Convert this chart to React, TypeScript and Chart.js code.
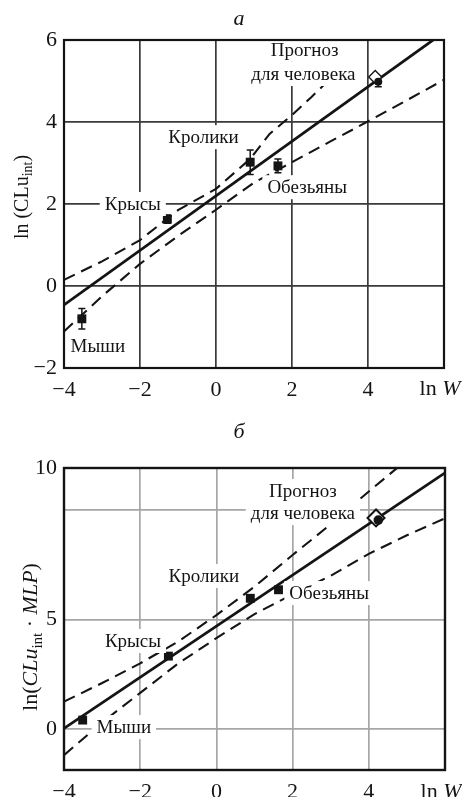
import React, { useEffect, useRef } from 'react';
import { Chart, registerables } from 'chart.js';
Chart.register(...registerables);

const FONT = "'Liberation Serif', 'DejaVu Serif', serif";
const INK = '#141414';

// ---------- shared x axis ----------
const X_MIN = -4;
const X_MAX = 6;
const X_TICK_VALUES = [-4, -2, 0, 2, 4, 6];
const X_TICK_LABELS = ['−4', '−2', '0', '2', '4', ''];

// ---------- panel а : ln(CLu_int) vs ln W ----------
const A_Y_MIN = -2;
const A_Y_MAX = 6;
const A_Y_TICK_VALUES = [-2, 0, 2, 4, 6];
const A_Y_TICK_LABELS = ['−2', '0', '2', '4', '6'];
const A_SPECIES_LNW = [-3.53, -1.28, 0.9, 1.63];
const A_SPECIES_LNCL = [-0.8, 1.63, 3.02, 2.93];
const A_SPECIES_ERR = [0.25, 0.1, 0.3, 0.17];
const A_HUMAN_OBS_LNW = [4.27];
const A_HUMAN_OBS_LNCL = [4.98];
const A_HUMAN_OBS_ERR = [0.12];
const A_HUMAN_PRED_LNW = [4.19];
const A_HUMAN_PRED_LNCL = [5.1];
const A_FIT_LNW = [-4, 6];
const A_FIT_LNCL = [-0.46, 6.19];
const A_UPPER_LNW = [-4, -3, -2, -1, 0, 0.9, 1.41, 2, 2.5, 3.0];
const A_UPPER_LNCL = [0.15, 0.6, 1.12, 1.85, 2.37, 3.1, 3.71, 4.17, 4.6, 5.05];
const A_LOWER_LNW = [-4, -3, -2, -1, 0, 1, 1.76, 3, 4.03, 5, 6];
const A_LOWER_LNCL = [-1.11, -0.25, 0.54, 1.22, 1.86, 2.52, 2.9, 3.52, 4.03, 4.52, 5.03];
const A_LABEL_TEXT = ['Мыши', 'Крысы', 'Кролики', 'Обезьяны', 'Прогноз', 'для человека'];
const A_LABEL_LNW = [-3.11, -2.19, -0.33, 2.4, 2.33, 2.3];
const A_LABEL_LNCL = [-1.46, 2.0, 3.63, 2.41, 5.76, 5.17];

// ---------- panel б : ln(CLu_int · MLP) vs ln W ----------
const B_Y_MIN = -1.87;
const B_Y_MAX = 11.92;
const B_Y_TICK_VALUES = [0, 5, 10, 11.92];
const B_Y_TICK_LABELS = ['0', '5', '', '10'];
const B_SPECIES_LNW = [-3.51, -1.26, 0.89, 1.63];
const B_SPECIES_LNCL = [0.41, 3.33, 5.97, 6.36];
const B_HUMAN_OBS_LNW = [4.25];
const B_HUMAN_OBS_LNCL = [9.54];
const B_HUMAN_PRED_LNW = [4.19];
const B_HUMAN_PRED_LNCL = [9.64];
const B_FIT_LNW = [-4, 6];
const B_FIT_LNCL = [0.03, 11.7];
const B_UPPER_LNW = [-4, -3, -2, -1, 0, 1, 2, 3, 4, 4.8];
const B_UPPER_LNCL = [1.25, 2.1, 3.0, 4.0, 5.2, 6.5, 7.95, 9.35, 10.85, 12.0];
const B_LOWER_LNW = [-4, -3, -2, -1, 0, 1, 2, 3, 4, 5, 6];
const B_LOWER_LNCL = [-1.19, 0.3, 1.65, 3.0, 4.15, 5.25, 6.15, 7.0, 8.0, 8.85, 9.62];
const B_LABEL_TEXT = ['Мыши', 'Крысы', 'Кролики', 'Обезьяны', 'Прогноз', 'для человека'];
const B_LABEL_LNW = [-2.43, -2.19, -0.33, 2.96, 2.27, 2.27];
const B_LABEL_LNCL = [0.09, 4.02, 6.99, 6.21, 10.87, 9.86];

type Seg = { t: string; it?: boolean; sub?: boolean };

const zip = (xs: number[], ys: number[]) => xs.map((x, i) => ({ x, y: ys[i] }));

function drawRich(ctx: CanvasRenderingContext2D, segs: Seg[], x: number, y: number, size: number, rotate: boolean) {
  const fontOf = (s: Seg) => `${s.it ? 'italic ' : ''}${s.sub ? Math.round(size * 0.68) : size}px ${FONT}`;
  ctx.save();
  ctx.translate(x, y);
  if (rotate) ctx.rotate(-Math.PI / 2);
  let total = 0;
  const widths = segs.map((s) => {
    ctx.font = fontOf(s);
    const w = ctx.measureText(s.t).width;
    total += w;
    return w;
  });
  let cx = -total / 2;
  ctx.fillStyle = INK;
  ctx.textAlign = 'left';
  ctx.textBaseline = 'alphabetic';
  segs.forEach((s, i) => {
    ctx.font = fontOf(s);
    ctx.fillText(s.t, cx, s.sub ? size * 0.22 : 0);
    cx += widths[i];
  });
  ctx.restore();
}

type PanelCfg = {
  height: number;
  padTop: number;
  padRight: number;
  xAxisH: number;
  xTickPad: number;
  yMin: number;
  yMax: number;
  yTickValues: number[];
  yTickLabels: string[];
  gridColor: string;
  gridW: number;
  borderW: number;
  species: [number[], number[]];
  speciesErr: number[] | null;
  hObs: [number[], number[]];
  hObsErr: number[] | null;
  hPred: [number[], number[]];
  fit: [number[], number[]];
  upper: [number[], number[]];
  lower: [number[], number[]];
  labels: [string[], number[], number[]];
  squareR: number;
  circleR: number;
  diamondR: number;
  diamondBW: number;
  title: string;
  titleBaseline: number;
  yTitle: Seg[];
  yTitleX: number;
  yTitleY: number;
  yTitleSize: number;
  lnWBaseline: number;
};

const PANEL_A: PanelCfg = {
  height: 400,
  padTop: 40,
  padRight: 18,
  xAxisH: 32,
  xTickPad: 9,
  yMin: A_Y_MIN,
  yMax: A_Y_MAX,
  yTickValues: A_Y_TICK_VALUES,
  yTickLabels: A_Y_TICK_LABELS,
  gridColor: '#3a3a3a',
  gridW: 1.7,
  borderW: 2.2,
  species: [A_SPECIES_LNW, A_SPECIES_LNCL],
  speciesErr: A_SPECIES_ERR,
  hObs: [A_HUMAN_OBS_LNW, A_HUMAN_OBS_LNCL],
  hObsErr: A_HUMAN_OBS_ERR,
  hPred: [A_HUMAN_PRED_LNW, A_HUMAN_PRED_LNCL],
  fit: [A_FIT_LNW, A_FIT_LNCL],
  upper: [A_UPPER_LNW, A_UPPER_LNCL],
  lower: [A_LOWER_LNW, A_LOWER_LNCL],
  labels: [A_LABEL_TEXT, A_LABEL_LNW, A_LABEL_LNCL],
  squareR: 6.3,
  circleR: 4,
  diamondR: 6.5,
  diamondBW: 1.4,
  title: 'а',
  titleBaseline: 25,
  yTitle: [{ t: 'ln (CLu' }, { t: 'int', sub: true }, { t: ')' }],
  yTitleX: 28,
  yTitleY: 197,
  yTitleSize: 20,
  lnWBaseline: 395,
};

const PANEL_B: PanelCfg = {
  height: 397,
  padTop: 68,
  padRight: 17,
  xAxisH: 27,
  xTickPad: 9,
  yMin: B_Y_MIN,
  yMax: B_Y_MAX,
  yTickValues: B_Y_TICK_VALUES,
  yTickLabels: B_Y_TICK_LABELS,
  gridColor: '#a6a6a6',
  gridW: 1.7,
  borderW: 2.4,
  species: [B_SPECIES_LNW, B_SPECIES_LNCL],
  speciesErr: null,
  hObs: [B_HUMAN_OBS_LNW, B_HUMAN_OBS_LNCL],
  hObsErr: null,
  hPred: [B_HUMAN_PRED_LNW, B_HUMAN_PRED_LNCL],
  fit: [B_FIT_LNW, B_FIT_LNCL],
  upper: [B_UPPER_LNW, B_UPPER_LNCL],
  lower: [B_LOWER_LNW, B_LOWER_LNCL],
  labels: [B_LABEL_TEXT, B_LABEL_LNW, B_LABEL_LNCL],
  squareR: 6.3,
  circleR: 4.8,
  diamondR: 8.5,
  diamondBW: 2,
  title: 'б',
  titleBaseline: 38,
  yTitle: [
    { t: 'ln(' },
    { t: 'CLu', it: true },
    { t: 'int', sub: true },
    { t: ' · ' },
    { t: 'MLP', it: true },
    { t: ')' },
  ],
  yTitleX: 37,
  yTitleY: 237,
  yTitleSize: 22,
  lnWBaseline: 398,
};

function makePlugin(p: PanelCfg) {
  return {
    id: 'panelDecor',
    beforeDatasetsDraw(chart: any) {
      const { ctx, scales } = chart;
      const sx = scales.x;
      const sy = scales.y;
      ctx.save();
      ctx.strokeStyle = INK;
      ctx.lineWidth = 1.5;
      const bars: [number[], number[], number[] | null][] = [
        [p.species[0], p.species[1], p.speciesErr],
        [p.hObs[0], p.hObs[1], p.hObsErr],
      ];
      bars.forEach(([xs, ys, es]) => {
        if (!es) return;
        xs.forEach((xv, i) => {
          const px = sx.getPixelForValue(xv);
          const p1 = sy.getPixelForValue(ys[i] + es[i]);
          const p2 = sy.getPixelForValue(ys[i] - es[i]);
          ctx.beginPath();
          ctx.moveTo(px, p1);
          ctx.lineTo(px, p2);
          ctx.moveTo(px - 3.5, p1);
          ctx.lineTo(px + 3.5, p1);
          ctx.moveTo(px - 3.5, p2);
          ctx.lineTo(px + 3.5, p2);
          ctx.stroke();
        });
      });
      ctx.restore();
    },
    afterDatasetsDraw(chart: any) {
      const { ctx, scales, chartArea: a } = chart;
      const sx = scales.x;
      const sy = scales.y;
      const [texts, lx, ly] = p.labels;
      ctx.save();
      ctx.font = `19px ${FONT}`;
      ctx.textAlign = 'center';
      ctx.textBaseline = 'middle';
      texts.forEach((t, i) => {
        const cx = sx.getPixelForValue(lx[i]);
        const cy = sy.getPixelForValue(ly[i]);
        const w = ctx.measureText(t).width;
        ctx.fillStyle = '#ffffff';
        ctx.fillRect(cx - w / 2 - 5, cy - 12, w + 10, 24);
        ctx.fillStyle = INK;
        ctx.fillText(t, cx, cy + 1);
      });
      ctx.strokeStyle = INK;
      ctx.lineWidth = p.borderW;
      ctx.strokeRect(a.left, a.top, a.right - a.left, a.bottom - a.top);
      ctx.restore();
    },
    afterDraw(chart: any) {
      const { ctx, scales } = chart;
      ctx.save();
      ctx.fillStyle = INK;
      ctx.font = `italic 22px ${FONT}`;
      ctx.textAlign = 'center';
      ctx.textBaseline = 'alphabetic';
      ctx.fillText(p.title, 239, p.titleBaseline);
      ctx.restore();
      drawRich(ctx, p.yTitle, p.yTitleX, p.yTitleY, p.yTitleSize, true);
      const wx = scales.x.getPixelForValue(X_MAX) - 4;
      drawRich(ctx, [{ t: 'ln ' }, { t: 'W', it: true }], wx, p.lnWBaseline, 22, false);
    },
  };
}

function buildConfig(p: PanelCfg): any {
  const tickFont = { family: FONT, size: 22 };
  return {
    type: 'scatter',
    data: {
      datasets: [
        {
          data: zip(p.hObs[0], p.hObs[1]),
          pointStyle: 'circle',
          pointRadius: p.circleR,
          backgroundColor: INK,
          borderWidth: 0,
          order: 0,
        },
        {
          data: zip(p.hPred[0], p.hPred[1]),
          pointStyle: 'rectRot',
          pointRadius: p.diamondR,
          backgroundColor: '#ffffff',
          borderColor: INK,
          borderWidth: p.diamondBW,
          order: 1,
        },
        {
          data: zip(p.species[0], p.species[1]),
          pointStyle: 'rect',
          pointRadius: p.squareR,
          backgroundColor: INK,
          borderWidth: 0,
          order: 2,
        },
        {
          data: zip(p.fit[0], p.fit[1]),
          showLine: true,
          pointRadius: 0,
          borderColor: INK,
          borderWidth: 2.8,
          order: 3,
        },
        {
          data: zip(p.upper[0], p.upper[1]),
          showLine: true,
          pointRadius: 0,
          borderColor: INK,
          borderWidth: 2.1,
          borderDash: [12, 7],
          order: 4,
        },
        {
          data: zip(p.lower[0], p.lower[1]),
          showLine: true,
          pointRadius: 0,
          borderColor: INK,
          borderWidth: 2.1,
          borderDash: [12, 7],
          order: 5,
        },
      ],
    },
    options: {
      responsive: false,
      maintainAspectRatio: false,
      animation: false,
      events: [],
      devicePixelRatio: 1,
      layout: { padding: { left: 0, right: p.padRight, top: p.padTop, bottom: 0 } },
      plugins: {
        legend: { display: false },
        tooltip: { enabled: false },
        title: { display: false },
      },
      scales: {
        x: {
          type: 'linear',
          min: X_MIN,
          max: X_MAX,
          afterBuildTicks: (s: any) => {
            s.ticks = X_TICK_VALUES.map((v) => ({ value: v }));
          },
          afterFit: (s: any) => {
            s.height = p.xAxisH;
            s.paddingLeft = 0;
            s.paddingRight = 0;
          },
          ticks: {
            autoSkip: false,
            maxRotation: 0,
            padding: p.xTickPad,
            color: INK,
            font: tickFont,
            callback: (v: number) => {
              const i = X_TICK_VALUES.indexOf(v);
              return i >= 0 ? X_TICK_LABELS[i] : '';
            },
          },
          grid: { color: p.gridColor, lineWidth: p.gridW, drawTicks: false },
          border: { display: false },
        },
        y: {
          type: 'linear',
          min: p.yMin,
          max: p.yMax,
          afterBuildTicks: (s: any) => {
            s.ticks = p.yTickValues.map((v) => ({ value: v }));
          },
          afterFit: (s: any) => {
            s.width = 64;
            s.paddingTop = 0;
            s.paddingBottom = 0;
          },
          ticks: {
            autoSkip: false,
            padding: 7,
            color: INK,
            font: tickFont,
            callback: (v: number) => {
              const i = p.yTickValues.indexOf(v);
              return i >= 0 ? p.yTickLabels[i] : '';
            },
          },
          grid: { color: p.gridColor, lineWidth: p.gridW, drawTicks: false },
          border: { display: false },
        },
      },
    },
    plugins: [makePlugin(p)],
  };
}

function Panel({ cfg, top }: { cfg: PanelCfg; top: number }) {
  const ref = useRef<HTMLCanvasElement | null>(null);
  useEffect(() => {
    if (!ref.current) return;
    const chart = new Chart(ref.current, buildConfig(cfg));
    return () => chart.destroy();
  }, [cfg]);
  return (
    <canvas
      ref={ref}
      width={462}
      height={cfg.height}
      style={{ position: 'absolute', left: 0, top, width: 462, height: cfg.height, display: 'block' }}
    />
  );
}

export default function App() {
  return (
    <div
      style={{
        position: 'fixed',
        left: 0,
        top: 0,
        width: 462,
        height: 797,
        background: '#ffffff',
        overflow: 'hidden',
      }}
    >
      <Panel cfg={PANEL_A} top={0} />
      <Panel cfg={PANEL_B} top={400} />
    </div>
  );
}
